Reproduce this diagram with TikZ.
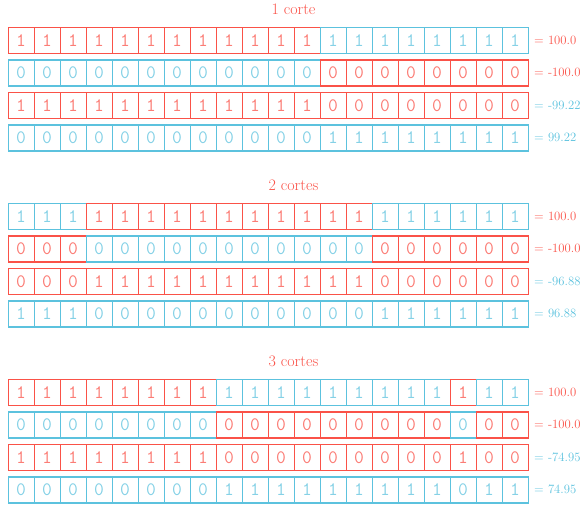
\documentclass[tikz,border=0pt]{standalone}
\usepackage{fontspec}
\definecolor{cutred}{RGB}{250,82,72}
\definecolor{cutblue}{RGB}{92,194,222}
\begin{document}
\begin{tikzpicture}[
        x=1pt, y=-1pt,
        cell/.style={draw=#1, text=#1!75!white, line width=1.2pt, minimum size=26pt, inner sep=0pt, anchor=north west, font=\fontsize{19}{19}\selectfont\ttfamily},
        heading/.style={text=cutred, anchor=base, inner sep=0pt, font=\fontsize{16}{16}\selectfont},
        fitness/.style={text=#1, anchor=base west, inner sep=0pt, font=\fontsize{12.7}{13}\selectfont}
    ]
        \useasboundingbox (0,0) rectangle (587,509);

        % one block per number of cuts: top, heading, fitness of the children, mask (1 = red child takes parent 1)
        \foreach \g/\ytop/\heading/\fitval/\mask in {
            1/26.8/{1 corte}/99.22/{1,1,1,1,1,1,1,1,1,1,1,1,0,0,0,0,0,0,0,0},
            2/202.8/{2 cortes}/96.88/{0,0,0,1,1,1,1,1,1,1,1,1,1,1,0,0,0,0,0,0},
            3/378.8/{3 cortes}/74.95/{1,1,1,1,1,1,1,1,0,0,0,0,0,0,0,0,0,1,0,0}}
        {
            % heading
            \node[heading] (g\g-head) at (293.5, \ytop-12.8) {\heading};

            % parents and children, cell by cell
            \foreach \s [count=\i from 0] in \mask {
                \ifnum\s=1 \def\colA{cutred}\def\colB{cutblue}\else \def\colA{cutblue}\def\colB{cutred}\fi
                \pgfmathtruncatemacro{\inv}{1-\s}
                \node[cell=\colA] (g\g-a-\i) at (7.5+26*\i, \ytop) {1};
                \node[cell=\colB] (g\g-b-\i) at (7.5+26*\i, \ytop+32.5) {0};
                \node[cell=cutred] (g\g-c-\i) at (7.5+26*\i, \ytop+65) {\s};
                \node[cell=cutblue] (g\g-d-\i) at (7.5+26*\i, \ytop+97.5) {\inv};
            }

            % fitness values
            \node[fitness=cutred] (g\g-fa) at (534, \ytop+17.3) {= 100.0};
            \node[fitness=cutred] (g\g-fb) at (534, \ytop+49.8) {= -100.0};
            \node[fitness=cutblue] (g\g-fc) at (534, \ytop+82.3) {= -\fitval};
            \node[fitness=cutblue] (g\g-fd) at (534, \ytop+114.8) {= \fitval};
        }

    \end{tikzpicture}
\end{document}
